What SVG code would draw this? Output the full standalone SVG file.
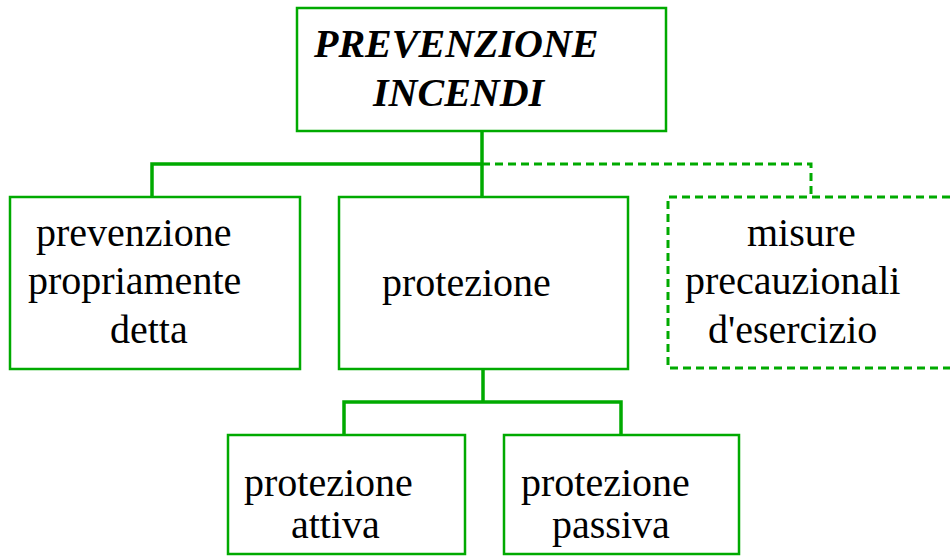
<svg xmlns="http://www.w3.org/2000/svg" width="950" height="556" viewBox="0 0 950 556">
<style>
.box{fill:#fff;stroke:#00aa00;stroke-width:2.5}
.dbox{fill:none;stroke:#00aa00;stroke-width:3;stroke-dasharray:8 5}
.con{fill:none;stroke:#00aa00;stroke-width:3.5}
.dcon{fill:none;stroke:#00aa00;stroke-width:3;stroke-dasharray:8 5}
.t{font-family:"Liberation Serif","Times New Roman",serif;font-size:40px;fill:#000}
.h{font-family:"Liberation Serif","Times New Roman",serif;font-size:40px;font-weight:bold;font-style:italic;fill:#000}
</style>
<rect width="950" height="556" fill="#fff"/>
<g id="connectors">
<path class="con" d="M482 131V197M152 197V164H482"/>
<path class="dcon" d="M482 164H811V197"/>
<path class="con" d="M483 369V402M344 435V402H621V435"/>
</g>
<g id="root">
<rect class="box" x="297" y="8" width="369" height="123"/>
<text class="h" x="314" y="57">PREVENZIONE</text>
<text class="h" x="373" y="106">INCENDI</text>
</g>
<g id="prevenzione">
<rect class="box" x="10" y="197" width="290" height="172"/>
<text class="t" x="36" y="246">prevenzione</text>
<text class="t" x="28" y="294">propriamente</text>
<text class="t" x="110" y="343">detta</text>
</g>
<g id="protezione">
<rect class="box" x="339" y="197" width="289" height="172"/>
<text class="t" x="382" y="296">protezione</text>
</g>
<g id="misure">
<path class="dbox" d="M950 197H668V368H950"/>
<text class="t" x="747" y="246">misure</text>
<text class="t" x="685" y="294">precauzionali</text>
<text class="t" x="708" y="343">d'esercizio</text>
</g>
<g id="attiva">
<rect class="box" x="228" y="435" width="237" height="119"/>
<text class="t" x="244" y="496">protezione</text>
<text class="t" x="291" y="538">attiva</text>
</g>
<g id="passiva">
<rect class="box" x="504" y="435" width="235" height="119"/>
<text class="t" x="521" y="496">protezione</text>
<text class="t" x="552" y="538">passiva</text>
</g>
</svg>
